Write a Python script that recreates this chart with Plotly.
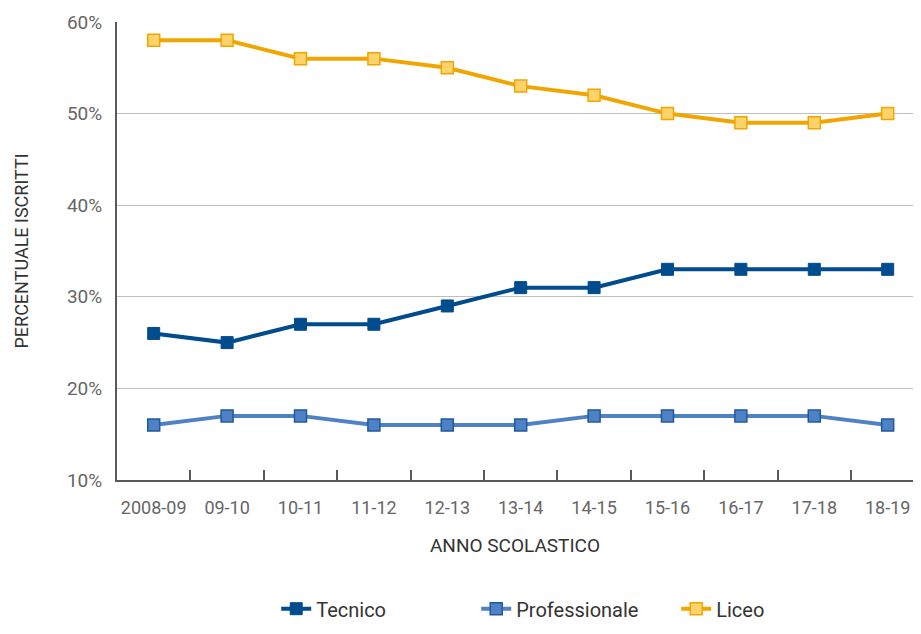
import plotly.graph_objects as go

categories = ["2008-09", "09-10", "10-11", "11-12", "12-13", "13-14", "14-15", "15-16", "16-17", "17-18", "18-19"]
tecnico = [26, 25, 27, 27, 29, 31, 31, 33, 33, 33, 33]
professionale = [16, 17, 17, 16, 16, 16, 17, 17, 17, 17, 16]
liceo = [58, 58, 56, 56, 55, 53, 52, 50, 49, 49, 50]
y_ticks = [10, 20, 30, 40, 50, 60]
y_tick_labels = ["10%", "20%", "30%", "40%", "50%", "60%"]

FONT = "Roboto"
GRAY = "#666666"
AXIS = "#595959"
DARK = "#333333"

fig = go.Figure()
fig.add_trace(go.Scatter(
    x=categories, y=tecnico, name="Tecnico", mode="lines+markers",
    line=dict(color="#004C8C", width=4),
    marker=dict(symbol="square", size=12, color="#004C8C", line=dict(color="#004C8C", width=1)),
))
fig.add_trace(go.Scatter(
    x=categories, y=professionale, name="Professionale", mode="lines+markers",
    line=dict(color="#4F81C5", width=4),
    marker=dict(symbol="square", size=12, color="#4F81C5", line=dict(color="#1F5A9E", width=1.5)),
))
fig.add_trace(go.Scatter(
    x=categories, y=liceo, name="Liceo", mode="lines+markers",
    line=dict(color="#F0A500", width=4),
    marker=dict(symbol="square", size=12, color="#FFD36B", line=dict(color="#F0A500", width=1.5)),
))

fig.update_layout(
    width=905, height=618,
    margin=dict(l=109, r=0, t=14, b=146, autoexpand=False),
    paper_bgcolor="white", plot_bgcolor="white",
    font=dict(family=FONT, color=GRAY, size=19),
    showlegend=True,
    legend=dict(orientation="h", x=0.2, xanchor="left", xref="paper",
                y=0.028, yanchor="middle", yref="container",
                font=dict(size=20, color=DARK), entrywidth=155, entrywidthmode="pixels",
                itemwidth=30, tracegroupgap=0),
    xaxis=dict(
        type="category", categoryorder="array", categoryarray=categories,
        range=[-0.5, 10.345], showgrid=False, zeroline=False, automargin=False,
        showline=True, linecolor=AXIS, linewidth=2, tickangle=0,
        ticks="inside", tickson="boundaries", ticklen=10, tickwidth=2, tickcolor=AXIS,
        ticklabelstandoff=10,
        tickfont=dict(size=18, color=GRAY),
        title=dict(text="ANNO SCOLASTICO", font=dict(size=19, color=DARK), standoff=22),
    ),
    yaxis=dict(
        range=[10, 60], tickmode="array", tickvals=y_ticks, ticktext=y_tick_labels,
        showgrid=True, gridcolor="#BFBFBF", gridwidth=1, zeroline=False, automargin=False,
        showline=True, linecolor=AXIS, linewidth=2, ticks="",
        ticklabelstandoff=9,
        tickfont=dict(size=19, color=GRAY),
        title=dict(text="PERCENTUALE ISCRITTI", font=dict(size=18, color=DARK), standoff=34),
    ),
)

fig.write_html("out.html")
